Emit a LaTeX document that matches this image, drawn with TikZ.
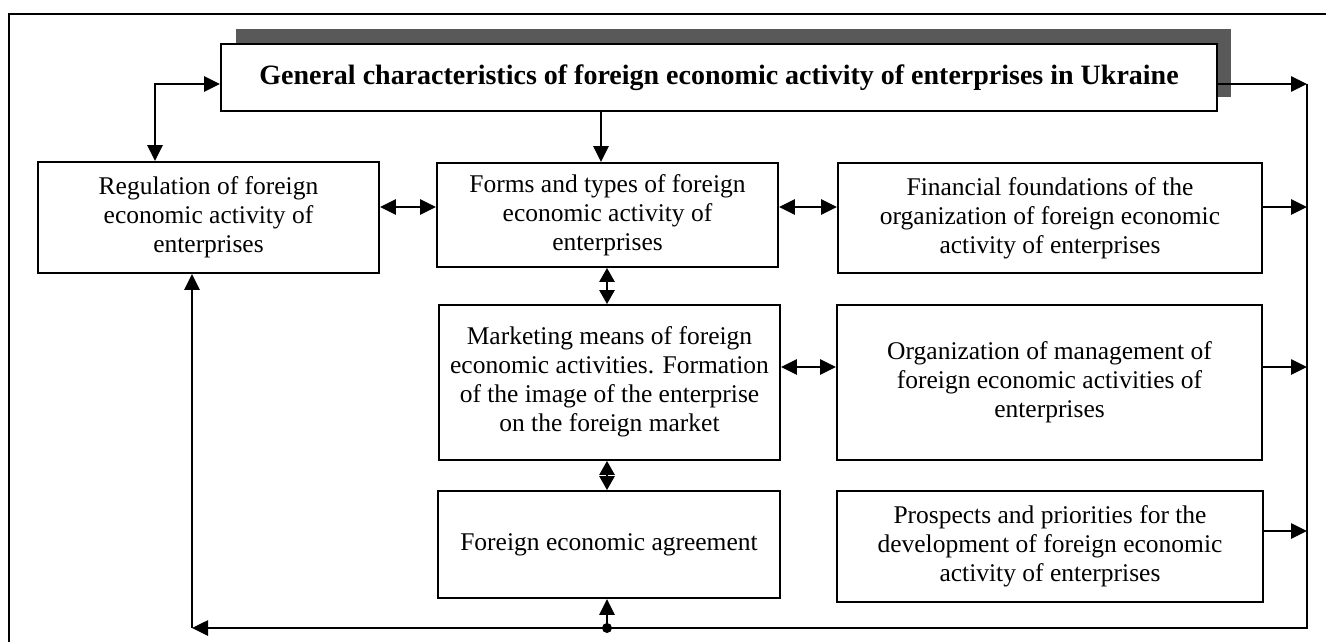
\documentclass[tikz,border=0pt]{standalone}
\usepackage{fontspec}
\setmainfont{Liberation Serif}
\usetikzlibrary{arrows.meta}
\tikzset{
  box/.style={draw, line width=1.8pt, inner sep=0pt, align=center, font=\fontsize{25.5}{29}\selectfont},
  arr/.style={line width=2.6pt, -{Triangle[length=16pt,width=15pt]}},
  darr/.style={line width=2.6pt, {Triangle[length=16pt,width=15pt]}-{Triangle[length=16pt,width=15pt]}},
  sdarr/.style={line width=2.6pt, {Triangle[length=14pt,width=15pt]}-{Triangle[length=14pt,width=15pt]}},
  plain/.style={line width=2.6pt}
}
\begin{document}
\begin{tikzpicture}[x=1pt,y=-1pt]
\useasboundingbox (0,0) rectangle (1326,642);
% outer frame (cut at right and bottom)
\draw[line width=2.4pt] (9,642) -- (9,14) -- (1326,14);
% title shadow and title
\fill[black!65] (236,29) rectangle (1231,97);
\node[box, fill=white, minimum width=996pt, minimum height=67pt, font=\fontsize{28}{30}\selectfont\bfseries] (title) at (719,77.5) {\raisebox{5pt}{General characteristics of foreign economic activity of enterprises in Ukraine}};
% boxes
\node[box, minimum width=341pt, minimum height=111pt] (reg) at (208.5,217.5) {Regulation of foreign\\economic activity of\\enterprises};
\node[box, minimum width=341pt, minimum height=104pt] (forms) at (607.5,215) {Forms and types of foreign\\economic activity of\\enterprises};
\node[box, minimum width=424pt, minimum height=110pt] (fin) at (1050,218) {Financial foundations of the\\organization of foreign economic\\activity of enterprises};
\node[box, minimum width=341pt, minimum height=155pt] (mkt) at (609.5,382.5) {\raisebox{7pt}{\begin{tabular}{@{}c@{}}Marketing means of foreign\\economic activities. Formation\\of the image of the enterprise\\on the foreign market\end{tabular}}};
\node[box, minimum width=425pt, minimum height=155pt] (org) at (1049.5,382.5) {Organization of management of\\foreign economic activities of\\enterprises};
\node[box, minimum width=342pt, minimum height=107pt] (agr) at (609,544.5) {Foreign economic agreement};
\node[box, minimum width=426pt, minimum height=111pt] (pro) at (1050,546.5) {Prospects and priorities for the\\development of foreign economic\\activity of enterprises};
% helper coordinates
\coordinate (rtop) at (1307,84);
\coordinate (rbot) at (1307,628);
\coordinate (dot) at (607,628);
\coordinate (corner) at (192,628);
\coordinate (regx) at (155,84);
\coordinate (tx) at (601,0);
\coordinate (vx) at (607,0);
\coordinate (y1) at (0,207);
\coordinate (y2) at (0,367);
\coordinate (y3) at (0,531);
% connectors
\draw[darr] (reg.north -| regx) -- (regx) -- (title.west |- regx);
\draw[arr] (title.south -| tx) -- (forms.north -| tx);
\draw[darr] (reg.east |- y1) -- (forms.west |- y1);
\draw[darr] (forms.east |- y1) -- (fin.west |- y1);
\draw[sdarr] (forms.south -| vx) -- (mkt.north -| vx);
\draw[darr] (mkt.east |- y2) -- (org.west |- y2);
\draw[sdarr] (mkt.south -| vx) -- (agr.north -| vx);
% right collector
\draw[plain] (rtop) -- (rbot) -- (dot);
\draw[arr] (title.east |- rtop) -- (rtop);
\draw[arr] (fin.east |- y1) -- (rtop |- y1);
\draw[arr] (org.east |- y2) -- (rtop |- y2);
\draw[arr] (pro.east |- y3) -- (rtop |- y3);
% bottom return
\draw[arr] (dot) -- (corner);
\draw[arr] (corner) -- (reg.south -| corner);
\draw[arr] (dot) -- (agr.south -| dot);
\fill (dot) circle (5pt);
\end{tikzpicture}
\end{document}
